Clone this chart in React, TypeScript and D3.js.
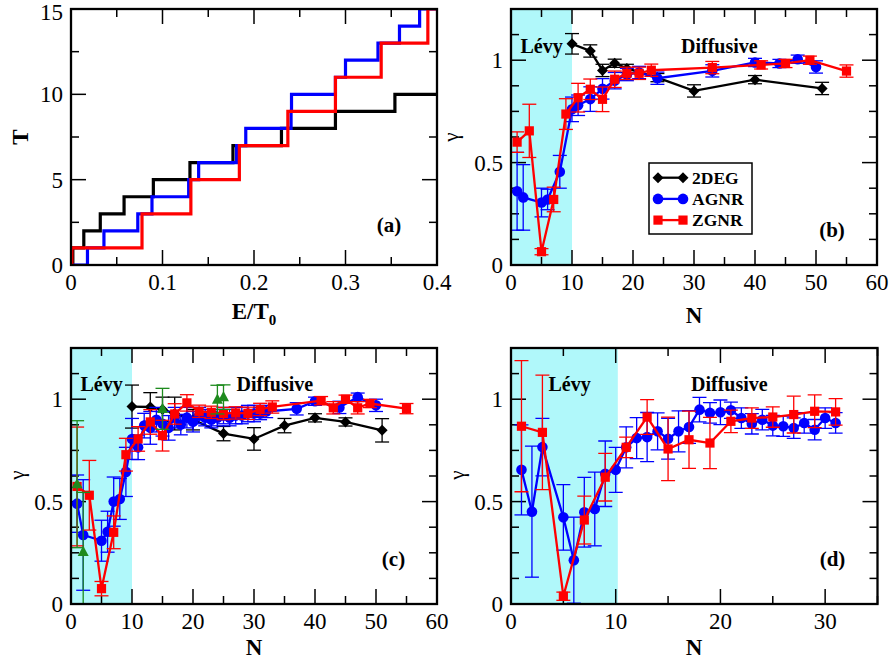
import React from 'react';
import * as d3 from 'd3';

const FONT = '"Liberation Serif", "Times New Roman", Times, "DejaVu Serif", serif';
const CYAN = '#b0f8fa';
const BLACK = '#000000';
const BLUE = '#0000ff';
const RED = '#ff0000';
const GREEN = '#1e8b1e';

// ---------- Panel (a): T vs E/T0 step curves ----------
const a2DEG_E = [0, 0.002, 0.014, 0.032, 0.058, 0.090, 0.130, 0.177, 0.230, 0.289, 0.354, 0.4];
const a2DEG_T = [0, 1, 2, 3, 4, 5, 6, 7, 8, 9, 10, 10];
const aAGNR_E = [0, 0.018, 0.036, 0.073, 0.0885, 0.1286, 0.1395, 0.181, 0.191, 0.2405, 0.241, 0.289, 0.300, 0.3355, 0.359, 0.381, 0.4];
const aAGNR_T = [0, 1, 2, 3, 4, 5, 6, 7, 8, 9, 10, 11, 12, 13, 14, 15, 15];
const aZGNR_E = [0, 0.001, 0.0776, 0.131, 0.184, 0.237, 0.289, 0.339, 0.390, 0.4];
const aZGNR_T = [0, 1, 3, 5, 7, 9, 11, 13, 15, 15];

const aXTicks = [0, 0.1, 0.2, 0.3, 0.4];
const aXTickLabels = ['0', '0.1', '0.2', '0.3', '0.4'];
const aXMinor = [0.05, 0.15, 0.25, 0.35];
const aYTicks = [0, 5, 10, 15];
const aYTickLabels = ['0', '5', '10', '15'];
const aYMinor = [2.5, 7.5, 12.5];

// ---------- Panel (b) ----------
const b2DEG_N = [10, 13, 15, 17, 19, 24, 30, 40, 51];
const b2DEG_G = [1.08, 1.045, 0.95, 0.985, 0.96, 0.915, 0.85, 0.905, 0.862];
const b2DEG_Err = [0.05, 0.03, 0.03, 0.02, 0.02, 0.02, 0.03, 0.02, 0.03];

const bAGNR_N = [1, 2, 5, 6, 8, 10, 11, 13, 15, 17, 19, 21, 24, 33, 40, 44, 47, 50];
const bAGNR_G = [0.36, 0.33, 0.305, 0.32, 0.455, 0.76, 0.78, 0.81, 0.86, 0.90, 0.93, 0.94, 0.912, 0.948, 0.989, 0.984, 1.005, 0.967];
const bAGNR_Err = [0.19, 0.16, 0.07, 0.05, 0.08, 0.06, 0.05, 0.06, 0.05, 0.04, 0.03, 0.03, 0.03, 0.03, 0.02, 0.02, 0.02, 0.03];

const bZGNR_N = [1, 3, 5, 7, 9, 11, 13, 15, 17, 19, 21, 23, 33, 41, 45, 49, 55];
const bZGNR_G = [0.60, 0.655, 0.065, 0.32, 0.737, 0.817, 0.858, 0.809, 0.907, 0.936, 0.936, 0.951, 0.964, 0.977, 0.984, 1.0, 0.947];
const bZGNR_Err = [0.05, 0.13, 0.015, 0.06, 0.075, 0.07, 0.05, 0.06, 0.04, 0.03, 0.03, 0.03, 0.03, 0.02, 0.02, 0.02, 0.03];

// ---------- Panel (c) ----------
const c2DEG_N = [10, 13, 15, 17, 20, 25, 30, 35, 40, 45, 51];
const c2DEG_G = [0.964, 0.962, 0.95, 0.93, 0.90, 0.832, 0.806, 0.871, 0.909, 0.889, 0.848];
const c2DEG_Err = [0.105, 0.07, 0.06, 0.08, 0.05, 0.035, 0.055, 0.035, 0.02, 0.02, 0.057];

const cGreen_N = [1, 2, 15, 24, 25];
const cGreen_G = [0.585, 0.255, 0.953, 0.998, 1.01];
const cGreen_Err = [0.31, 0.29, 0.1, 0.07, 0.06];

const cAGNR_N = [1, 2, 5, 6, 7, 8, 9, 10, 11, 12, 13, 14, 15, 16, 17, 18, 19, 20, 21, 22, 23, 24, 25, 26, 27, 28, 29, 30, 31, 32, 37, 40, 44, 47, 50];
const cAGNR_G = [0.49, 0.337, 0.309, 0.353, 0.50, 0.513, 0.645, 0.806, 0.765, 0.871, 0.86, 0.90, 0.88, 0.86, 0.91, 0.876, 0.91, 0.89, 0.92, 0.91, 0.90, 0.91, 0.92, 0.91, 0.92, 0.92, 0.93, 0.93, 0.93, 0.94, 0.953, 0.99, 0.96, 1.01, 0.97];
const cAGNR_Err = [0.14, 0.27, 0.1, 0.1, 0.12, 0.1, 0.12, 0.1, 0.06, 0.06, 0.08, 0.06, 0.06, 0.06, 0.05, 0.05, 0.05, 0.05, 0.04, 0.04, 0.04, 0.04, 0.04, 0.04, 0.04, 0.04, 0.04, 0.04, 0.03, 0.03, 0.03, 0.02, 0.03, 0.02, 0.03];

const cZGNR_N = [1, 3, 5, 7, 9, 11, 13, 15, 17, 19, 21, 23, 25, 27, 29, 31, 33, 41, 43, 45, 47, 49, 55];
const cZGNR_G = [0.574, 0.531, 0.075, 0.35, 0.729, 0.806, 0.889, 0.822, 0.928, 0.982, 0.941, 0.936, 0.93, 0.933, 0.931, 0.95, 0.962, 0.993, 0.958, 1.0, 0.958, 0.979, 0.954];
const cZGNR_Err = [0.29, 0.17, 0.035, 0.08, 0.08, 0.06, 0.06, 0.075, 0.05, 0.04, 0.03, 0.03, 0.03, 0.03, 0.03, 0.03, 0.03, 0.02, 0.03, 0.02, 0.03, 0.02, 0.025];

// ---------- Panel (d) ----------
const dAGNR_N = [1, 2, 3, 5, 6, 7, 8, 9, 10, 11, 12, 13, 14, 15, 16, 17, 18, 19, 20, 21, 22, 23, 24, 25, 26, 27, 28, 29, 30, 31];
const dAGNR_G = [0.655, 0.451, 0.766, 0.423, 0.214, 0.448, 0.464, 0.636, 0.655, 0.765, 0.81, 0.815, 0.843, 0.807, 0.843, 0.864, 0.949, 0.933, 0.936, 0.946, 0.908, 0.88, 0.90, 0.871, 0.868, 0.859, 0.884, 0.851, 0.908, 0.884];
const dAGNR_Err = [0.22, 0.32, 0.14, 0.16, 0.21, 0.17, 0.18, 0.16, 0.11, 0.1, 0.1, 0.12, 0.09, 0.1, 0.1, 0.08, 0.06, 0.05, 0.06, 0.04, 0.05, 0.05, 0.05, 0.05, 0.05, 0.05, 0.05, 0.05, 0.05, 0.05];

const dZGNR_N = [1, 3, 5, 7, 9, 11, 13, 15, 17, 19, 21, 23, 25, 27, 29, 31];
const dZGNR_G = [0.868, 0.838, 0.038, 0.41, 0.619, 0.765, 0.913, 0.757, 0.802, 0.786, 0.892, 0.908, 0.913, 0.925, 0.941, 0.938];
const dZGNR_Err = [0.32, 0.28, 0.02, 0.117, 0.116, 0.05, 0.085, 0.155, 0.14, 0.125, 0.055, 0.05, 0.05, 0.09, 0.08, 0.065];

// ---------- shared gamma-axis ticks ----------
const gYTicks = [0, 0.5, 1];
const gYTickLabels = ['0', '0.5', '1'];
const gYMinor = [0.125, 0.25, 0.375, 0.625, 0.75, 0.875, 1.125];
const nXTicks60 = [0, 10, 20, 30, 40, 50, 60];
const nXTickLabels60 = ['0', '10', '20', '30', '40', '50', '60'];
const nXMinor60 = [5, 15, 25, 35, 45, 55];
const nXTicks35 = [0, 10, 20, 30];
const nXTickLabels35 = ['0', '10', '20', '30'];
const nXMinor35 = [5, 15, 25, 35];

const legendNames = ['2DEG', 'AGNR', 'ZGNR'];

type Marker = 'diamond' | 'circle' | 'square' | 'triangle';
interface Series {
  N: number[];
  G: number[];
  Err: number[];
  color: string;
  marker: Marker;
  line: boolean;
}

const fontStyle = { fontFamily: FONT };

function MarkerShape({ m, cx, cy, color }: { m: Marker; cx: number; cy: number; color: string }) {
  if (m === 'circle') return <circle cx={cx} cy={cy} r={5.3} fill={color} />;
  if (m === 'square') return <rect x={cx - 4.6} y={cy - 4.6} width={9.2} height={9.2} fill={color} />;
  if (m === 'diamond') {
    const s = 5.5;
    return <path d={`M${cx},${cy - s}L${cx + s},${cy}L${cx},${cy + s}L${cx - s},${cy}Z`} fill={color} />;
  }
  const s = 5.5;
  return <path d={`M${cx},${cy - s * 1.1}L${cx + s},${cy + s * 0.75}L${cx - s},${cy + s * 0.75}Z`} fill={color} />;
}

interface Box { l: number; t: number; r: number; b: number }

interface PanelProps {
  id: string;
  box: Box;
  xDomain: [number, number];
  yDomain: [number, number];
  xTicks: number[];
  xTickLabels: string[];
  xMinor: number[];
  yTicks: number[];
  yTickLabels: string[];
  yMinor: number[];
  shade?: [number, number];
  series?: Series[];
  steps?: { E: number[]; T: number[]; color: string }[];
  children?: React.ReactNode;
}

function Panel(p: PanelProps) {
  const { box } = p;
  const x = d3.scaleLinear().domain(p.xDomain).range([box.l, box.r]);
  const y = d3.scaleLinear().domain(p.yDomain).range([box.b, box.t]);
  const majL = 15;
  const minL = 8;
  const tickStroke = 1.5;
  return (
    <g>
      <defs>
        <clipPath id={`clip-${p.id}`}>
          <rect x={box.l} y={box.t} width={box.r - box.l} height={box.b - box.t} />
        </clipPath>
      </defs>
      {p.shade && (
        <rect x={x(p.shade[0])} y={box.t} width={x(p.shade[1]) - x(p.shade[0])} height={box.b - box.t} fill={CYAN} />
      )}
      {p.xTicks.map((t, i) => (
        <g key={'xt' + i}>
          <line x1={x(t)} x2={x(t)} y1={box.b} y2={box.b - majL} stroke="#000" strokeWidth={tickStroke} />
          <line x1={x(t)} x2={x(t)} y1={box.t} y2={box.t + majL} stroke="#000" strokeWidth={tickStroke} />
          <text x={x(t)} y={box.b + 25} textAnchor="middle" fontSize={23} style={fontStyle}>{p.xTickLabels[i]}</text>
        </g>
      ))}
      {p.xMinor.map((t, i) => (
        <g key={'xm' + i}>
          <line x1={x(t)} x2={x(t)} y1={box.b} y2={box.b - minL} stroke="#000" strokeWidth={tickStroke} />
          <line x1={x(t)} x2={x(t)} y1={box.t} y2={box.t + minL} stroke="#000" strokeWidth={tickStroke} />
        </g>
      ))}
      {p.yTicks.map((t, i) => (
        <g key={'yt' + i}>
          <line x1={box.l} x2={box.l + majL} y1={y(t)} y2={y(t)} stroke="#000" strokeWidth={tickStroke} />
          <line x1={box.r} x2={box.r - majL} y1={y(t)} y2={y(t)} stroke="#000" strokeWidth={tickStroke} />
          <text x={box.l - 8} y={Math.max(y(t) + 8, 20)} textAnchor="end" fontSize={23} style={fontStyle}>{p.yTickLabels[i]}</text>
        </g>
      ))}
      {p.yMinor.map((t, i) => (
        <g key={'ym' + i}>
          <line x1={box.l} x2={box.l + minL} y1={y(t)} y2={y(t)} stroke="#000" strokeWidth={tickStroke} />
          <line x1={box.r} x2={box.r - minL} y1={y(t)} y2={y(t)} stroke="#000" strokeWidth={tickStroke} />
        </g>
      ))}
      <g clipPath={`url(#clip-${p.id})`}>
        {p.steps &&
          p.steps.map((s, i) => {
            const stepLine = d3
              .line<number>()
              .curve(d3.curveStepAfter)
              .x((_, j) => x(s.E[j]))
              .y((_, j) => y(s.T[j]));
            return <path key={'st' + i} d={stepLine(s.T) || ''} fill="none" stroke={s.color} strokeWidth={3.2} />;
          })}
        {p.series &&
          p.series.map((s, si) => {
            const line = d3
              .line<number>()
              .x((_, j) => x(s.N[j]))
              .y((_, j) => y(s.G[j]));
            return (
              <g key={'s' + si}>
                {s.N.map((n, j) => {
                  const cx = x(n);
                  const y1 = y(s.G[j] + s.Err[j]);
                  const y0 = y(s.G[j] - s.Err[j]);
                  return (
                    <g key={'e' + j} stroke={s.color} strokeWidth={1.3}>
                      <line x1={cx} x2={cx} y1={y1} y2={y0} />
                      <line x1={cx - 7} x2={cx + 7} y1={y1} y2={y1} />
                      <line x1={cx - 7} x2={cx + 7} y1={y0} y2={y0} />
                    </g>
                  );
                })}
                {s.line && <path d={line(s.G) || ''} fill="none" stroke={s.color} strokeWidth={2.3} />}
                {s.N.map((n, j) => (
                  <MarkerShape key={'m' + j} m={s.marker} cx={x(n)} cy={y(s.G[j])} color={s.color} />
                ))}
              </g>
            );
          })}
      </g>
      <rect x={box.l} y={box.t} width={box.r - box.l} height={box.b - box.t} fill="none" stroke="#000" strokeWidth={2.3} />
      {p.children}
    </g>
  );
}

const boxA: Box = { l: 71, t: 9, r: 437, b: 265 };
const boxB: Box = { l: 511, t: 9, r: 877, b: 265 };
const boxC: Box = { l: 71, t: 348, r: 437, b: 604 };
const boxD: Box = { l: 511, t: 348, r: 877.5, b: 604 };

function GammaLabel({ x, y }: { x: number; y: number }) {
  return (
    <text transform={`translate(${x},${y}) rotate(-90)`} textAnchor="middle" fontSize={21} style={fontStyle}>
      γ
    </text>
  );
}

function BoldText({ x, y, s, size = 20, anchor = 'start' }: { x: number; y: number; s: string; size?: number; anchor?: string }) {
  return (
    <text x={x} y={y} fontSize={size} fontWeight="bold" style={fontStyle} textAnchor={anchor as any}>
      {s}
    </text>
  );
}

export default function App() {
  const seriesB: Series[] = [
    { N: b2DEG_N, G: b2DEG_G, Err: b2DEG_Err, color: BLACK, marker: 'diamond', line: true },
    { N: bAGNR_N, G: bAGNR_G, Err: bAGNR_Err, color: BLUE, marker: 'circle', line: true },
    { N: bZGNR_N, G: bZGNR_G, Err: bZGNR_Err, color: RED, marker: 'square', line: true },
  ];
  const seriesC: Series[] = [
    { N: c2DEG_N, G: c2DEG_G, Err: c2DEG_Err, color: BLACK, marker: 'diamond', line: true },
    { N: cAGNR_N, G: cAGNR_G, Err: cAGNR_Err, color: BLUE, marker: 'circle', line: true },
    { N: cZGNR_N, G: cZGNR_G, Err: cZGNR_Err, color: RED, marker: 'square', line: true },
    { N: cGreen_N, G: cGreen_G, Err: cGreen_Err, color: GREEN, marker: 'triangle', line: false },
  ];
  const seriesD: Series[] = [
    { N: dAGNR_N, G: dAGNR_G, Err: dAGNR_Err, color: BLUE, marker: 'circle', line: true },
    { N: dZGNR_N, G: dZGNR_G, Err: dZGNR_Err, color: RED, marker: 'square', line: true },
  ];
  const stepsA = [
    { E: a2DEG_E, T: a2DEG_T, color: BLACK },
    { E: aAGNR_E, T: aAGNR_T, color: BLUE },
    { E: aZGNR_E, T: aZGNR_T, color: RED },
  ];
  const legendColors = [BLACK, BLUE, RED];
  const legendMarkers: Marker[] = ['diamond', 'circle', 'square'];

  return (
    <svg
      width={892}
      height={659}
      style={{ position: 'absolute', left: 0, top: 0, background: '#fff', fontFamily: FONT }}
    >
      <rect x={0} y={0} width={892} height={659} fill="#fff" />
      <Panel
        id="a"
        box={boxA}
        xDomain={[0, 0.4]}
        yDomain={[0, 15]}
        xTicks={aXTicks}
        xTickLabels={aXTickLabels}
        xMinor={aXMinor}
        yTicks={aYTicks}
        yTickLabels={aYTickLabels}
        yMinor={aYMinor}
        steps={stepsA}
      >
        <BoldText x={389} y={232} s="(a)" size={21} anchor="middle" />
        <text transform="translate(28,137) rotate(-90)" textAnchor="middle" fontSize={23} fontWeight="bold" style={fontStyle}>T</text>
        <text x={254} y={319} textAnchor="middle" fontSize={23} fontWeight="bold" style={fontStyle}>
          E/T<tspan fontSize={15} dy={6}>0</tspan>
        </text>
      </Panel>
      <Panel
        id="b"
        box={boxB}
        xDomain={[0, 60]}
        yDomain={[0, 1.25]}
        xTicks={nXTicks60}
        xTickLabels={nXTickLabels60}
        xMinor={nXMinor60}
        yTicks={gYTicks}
        yTickLabels={gYTickLabels}
        yMinor={gYMinor}
        shade={[0, 10]}
        series={seriesB}
      >
        <BoldText x={520.5} y={53} s="Lévy" />
        <BoldText x={681} y={53} s="Diffusive" />
        <BoldText x={832} y={237} s="(b)" size={21} anchor="middle" />
        <GammaLabel x={458} y={137} />
        <text x={694} y={323} textAnchor="middle" fontSize={23} fontWeight="bold" style={fontStyle}>N</text>
        <rect x={649} y={163} width={103} height={71} fill="#fff" stroke="#000" strokeWidth={1.5} />
        {legendNames.map((nm, i) => {
          const ly = 177.7 + i * 21.2;
          return (
            <g key={nm}>
              <line x1={658} x2={683} y1={ly} y2={ly} stroke={legendColors[i]} strokeWidth={2.3} />
              <MarkerShape m={legendMarkers[i]} cx={658} cy={ly} color={legendColors[i]} />
              <MarkerShape m={legendMarkers[i]} cx={683} cy={ly} color={legendColors[i]} />
              <text x={692} y={ly + 6} fontSize={17.5} fontWeight="bold" style={fontStyle}>{nm}</text>
            </g>
          );
        })}
      </Panel>
      <Panel
        id="c"
        box={boxC}
        xDomain={[0, 60]}
        yDomain={[0, 1.25]}
        xTicks={nXTicks60}
        xTickLabels={nXTickLabels60}
        xMinor={nXMinor60}
        yTicks={gYTicks}
        yTickLabels={gYTickLabels}
        yMinor={gYMinor}
        shade={[0, 10]}
        series={seriesC}
      >
        <BoldText x={80.5} y={391} s="Lévy" />
        <BoldText x={236.5} y={391} s="Diffusive" />
        <BoldText x={393.5} y={566} s="(c)" size={21} anchor="middle" />
        <GammaLabel x={24} y={475} />
        <text x={254} y={655} textAnchor="middle" fontSize={23} fontWeight="bold" style={fontStyle}>N</text>
      </Panel>
      <Panel
        id="d"
        box={boxD}
        xDomain={[0, 35]}
        yDomain={[0, 1.25]}
        xTicks={nXTicks35}
        xTickLabels={nXTickLabels35}
        xMinor={nXMinor35}
        yTicks={gYTicks}
        yTickLabels={gYTickLabels}
        yMinor={gYMinor}
        shade={[0, 10.2]}
        series={seriesD}
      >
        <BoldText x={548.5} y={391} s="Lévy" />
        <BoldText x={691} y={391} s="Diffusive" />
        <BoldText x={832.5} y={566} s="(d)" size={21} anchor="middle" />
        <GammaLabel x={464} y={475} />
        <text x={694} y={655} textAnchor="middle" fontSize={23} fontWeight="bold" style={fontStyle}>N</text>
      </Panel>
    </svg>
  );
}
